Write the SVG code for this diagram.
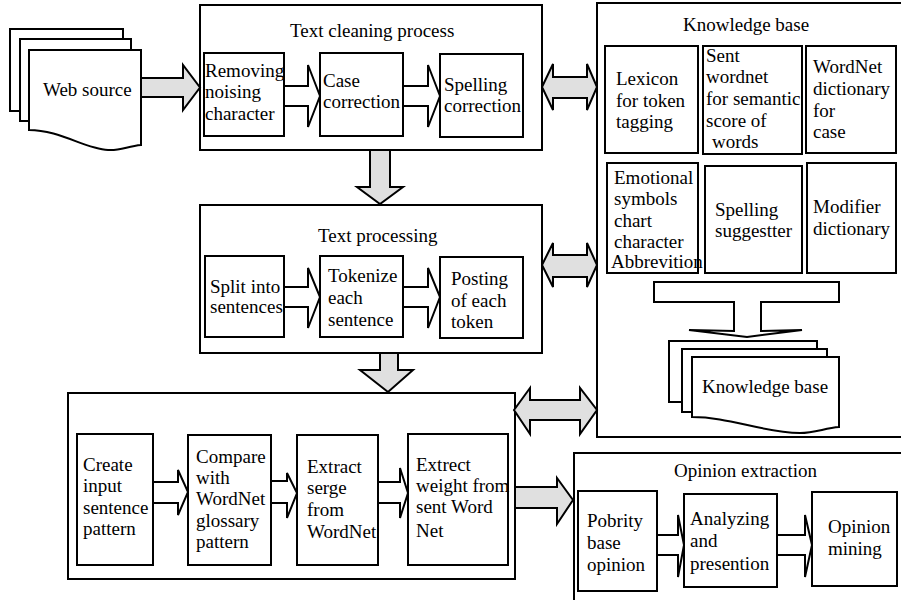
<svg xmlns="http://www.w3.org/2000/svg" width="901" height="600" viewBox="0 0 901 600" font-family="'Liberation Serif', Tinos, 'Times New Roman', 'Noto Serif', 'DejaVu Serif', serif">
<style>
.box{fill:#fff;stroke:#000;stroke-width:2}
.doc{fill:#fff;stroke:#000;stroke-width:2}
.t{font-family:'Liberation Serif', Tinos, 'Times New Roman', 'Noto Serif', 'DejaVu Serif', serif;font-size:19px;fill:#000}
.g{fill:#e0e0e0;stroke:#000;stroke-width:2;stroke-linejoin:miter}
.w{fill:#fff;stroke:#000;stroke-width:2;stroke-linejoin:miter}
</style>
<rect width="901" height="600" fill="#fff"/>

<g id="web-source">
<rect class="doc" x="10" y="29" width="113" height="82"/>
<rect class="doc" x="20" y="39" width="111" height="82"/>
<path class="doc" d="M29,50 H141 V145 C128,146 120,151 108,150 C85,149 60,130 29,130 Z"/>
<text class="t" x="43" y="96">Web source</text>
</g>

<g id="text-cleaning">
<rect class="box" x="200" y="5" width="342" height="145"/>
<text class="t" x="290" y="37">Text cleaning process</text>
</g>
<g id="removing-noising">
<rect class="box" x="204" y="53" width="80" height="83"/>
<text class="t" x="205" y="77">Removing</text>
<text class="t" x="205" y="98">noising</text>
<text class="t" x="205" y="120">character</text>
</g>
<g id="case-correction">
<rect class="box" x="320" y="53" width="83" height="83"/>
<text class="t" x="323" y="87">Case</text>
<text class="t" x="323" y="108">correction</text>
</g>
<g id="spelling-correction">
<rect class="box" x="440" y="54" width="83" height="83"/>
<text class="t" x="444" y="91">Spelling</text>
<text class="t" x="444" y="112">correction</text>
</g>

<g id="text-processing">
<rect class="box" x="200" y="205" width="342" height="148"/>
<text class="t" x="318" y="242">Text processing</text>
</g>
<g id="split-sentences">
<rect class="box" x="205" y="256" width="79" height="81"/>
<text class="t" x="210" y="293">Split into</text>
<text class="t" x="210" y="313">sentences</text>
</g>
<g id="tokenize">
<rect class="box" x="320" y="256" width="83" height="81"/>
<text class="t" x="328" y="282">Tokenize</text>
<text class="t" x="328" y="304">each</text>
<text class="t" x="328" y="326">sentence</text>
</g>
<g id="posting">
<rect class="box" x="440" y="257" width="83" height="81"/>
<text class="t" x="451" y="285">Posting</text>
<text class="t" x="451" y="307">of each</text>
<text class="t" x="451" y="328">token</text>
</g>

<g id="matching">
<rect class="box" x="68" y="393" width="447" height="186"/>
</g>
<g id="create-pattern">
<rect class="box" x="77" y="434" width="76" height="131"/>
<text class="t" x="83" y="471">Create</text>
<text class="t" x="83" y="492">input</text>
<text class="t" x="83" y="514">sentence</text>
<text class="t" x="83" y="535">pattern</text>
</g>
<g id="compare-wordnet">
<rect class="box" x="188" y="435" width="83" height="130"/>
<text class="t" x="196" y="463">Compare</text>
<text class="t" x="196" y="484">with</text>
<text class="t" x="196" y="505">WordNet</text>
<text class="t" x="196" y="527">glossary</text>
<text class="t" x="196" y="548">pattern</text>
</g>
<g id="extract-serge">
<rect class="box" x="297" y="435" width="81" height="130"/>
<text class="t" x="307" y="473">Extract</text>
<text class="t" x="307" y="494">serge</text>
<text class="t" x="307" y="516">from</text>
<text class="t" x="307" y="538">WordNet</text>
</g>
<g id="extract-weight">
<rect class="box" x="408" y="434" width="100" height="131"/>
<text class="t" x="416" y="471">Extrect</text>
<text class="t" x="416" y="492">weight from</text>
<text class="t" x="416" y="513">sent Word</text>
<text class="t" x="416" y="537">Net</text>
</g>

<g id="knowledge-base">
<rect class="box" x="597" y="3" width="310" height="434"/>
<text class="t" x="683" y="31">Knowledge base</text>
</g>
<g id="lexicon">
<rect class="box" x="605" y="46" width="93" height="107"/>
<text class="t" x="616" y="85">Lexicon</text>
<text class="t" x="616" y="107">for token</text>
<text class="t" x="616" y="128">tagging</text>
</g>
<g id="sent-wordnet">
<rect class="box" x="703" y="46" width="99" height="108"/>
<text class="t" x="706" y="62">Sent</text>
<text class="t" x="706" y="83">wordnet</text>
<text class="t" x="706" y="105">for semantic</text>
<text class="t" x="706" y="127">score of</text>
<text class="t" x="712" y="148">words</text>
</g>
<g id="wordnet-dictionary">
<rect class="box" x="806" y="46" width="90" height="107"/>
<text class="t" x="813" y="73">WordNet</text>
<text class="t" x="813" y="95">dictionary</text>
<text class="t" x="813" y="117">for</text>
<text class="t" x="813" y="138">case</text>
</g>
<g id="emotional-symbols">
<rect class="box" x="607" y="163" width="91" height="110"/>
<text class="t" x="614" y="184">Emotional</text>
<text class="t" x="614" y="205">symbols</text>
<text class="t" x="614" y="227">chart</text>
<text class="t" x="614" y="248">character</text>
<text class="t" x="611" y="268">Abbrevition</text>
</g>
<g id="spelling-suggester">
<rect class="box" x="705" y="166" width="97" height="107"/>
<text class="t" x="715" y="216">Spelling</text>
<text class="t" x="715" y="237">suggestter</text>
</g>
<g id="modifier-dictionary">
<rect class="box" x="807" y="163" width="89" height="110"/>
<text class="t" x="813" y="213">Modifier</text>
<text class="t" x="813" y="235">dictionary</text>
</g>
<g id="kb-documents">
<rect class="doc" x="669" y="341" width="148" height="61"/>
<rect class="doc" x="682" y="349" width="145" height="63"/>
<path class="doc" d="M692,357 H839 V427 C825,428 815,433 800,433 C760,432 730,417 692,417 Z"/>
<text class="t" x="702" y="393">Knowledge base</text>
</g>

<g id="opinion-extraction">
<rect class="box" x="574" y="453" width="335" height="155"/>
<text class="t" x="674" y="477">Opinion extraction</text>
</g>
<g id="polarity-opinion">
<rect class="box" x="578" y="491" width="79" height="100"/>
<text class="t" x="587" y="527">Pobrity</text>
<text class="t" x="587" y="549">base</text>
<text class="t" x="587" y="571">opinion</text>
</g>
<g id="analyzing">
<rect class="box" x="684" y="494" width="93" height="93"/>
<text class="t" x="690" y="525">Analyzing</text>
<text class="t" x="690" y="547">and</text>
<text class="t" x="690" y="570">presention</text>
</g>
<g id="opinion-mining">
<rect class="box" x="812" y="492" width="85" height="94"/>
<text class="t" x="828" y="533">Opinion</text>
<text class="t" x="828" y="555">mining</text>
</g>

<g id="connectors">
<polygon class="g" points="141,78 183,78 183,65 200,87.5 183,110 183,97 141,97"/>
<polygon class="g" points="370,150 390,150 390,187 403,187 380,204 357,187 370,187"/>
<polygon class="g" points="380,353 398,353 398,370 413,370 388,392 360,370 380,370"/>
<polygon class="g" points="515,487 557,487 557,478 573,500 557,524 557,508 515,508"/>
<polygon class="g" points="542,87 553,64 553,77 587,77 587,64 597,87 587,110 587,98 553,98 553,110"/>
<polygon class="g" points="542,265 553,243 553,255 587,255 587,243 597,265 587,287 587,277 553,277 553,287"/>
<polygon class="g" points="514,410 530,388 530,400 580,400 580,388 597,410 580,434 580,420 530,420 530,434"/>
<polygon class="w" points="284,86 308,86 308,65 320,96 308,127 308,106 284,106"/>
<polygon class="w" points="403,86 428,86 428,65 440,96 428,127 428,106 403,106"/>
<polygon class="w" points="284,287 308,287 308,268 320,297 308,328 308,307 284,307"/>
<polygon class="w" points="403,287 428,287 428,268 440,297 428,328 428,307 403,307"/>
<polygon class="w" points="153,482 178,482 178,470 188,492 178,515 178,503 153,503"/>
<polygon class="w" points="271,481 287,481 287,473 297,493 287,518 287,503 271,503"/>
<polygon class="w" points="378,482 400,482 400,468 408,493 400,518 400,503 378,503"/>
<polygon class="w" points="657,535 678,535 678,515 684,545 678,577 678,555 657,555"/>
<polygon class="w" points="777,535 805,535 805,515 812,545 805,577 805,555 777,555"/>
<polygon class="w" points="654,282 839,282 839,302 761,302 761,331 802,330 747,337 689,330 734,331 734,302 654,302"/>
</g>
</svg>
